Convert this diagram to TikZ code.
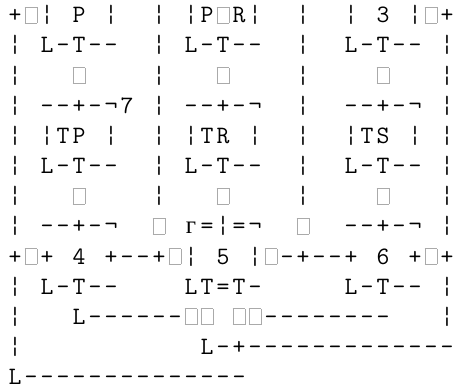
\documentclass[tikz,border=0pt]{standalone}
\usepackage{fontspec}
\newfontfamily\cyrf{Liberation Serif}
\definecolor{tofugray}{RGB}{170,170,170}
\makeatletter
\def\dotch{.}
\newcommand\tofu{{\color{tofugray}\setlength\fboxsep{0pt}\setlength\fboxrule{0.9pt}\fbox{\rule{0pt}{15pt}\hspace{11pt}}}}
\newcommand\gge{{\cyrf г}}
\newcommand\gridrow[1]{\@tfor\rowch:=#1\do{\makebox[16pt]{\ifx\rowch\dotch\else\rowch\fi}}}
\makeatother
\tikzset{
  asciirow/.style={anchor=base west, inner sep=0pt, outer sep=0pt,
    font=\ttfamily\fontsize{25}{29}\selectfont}
}
\begin{document}
\begin{tikzpicture}[x=1pt,y=1pt]
\useasboundingbox (0,0) rectangle (457,389);
\node[asciirow] (r1)  at (7,{389-22.8-0*30.15}) {\gridrow{+\tofu ¦.P.¦..¦.¦P\tofu R¦..¦..¦.3.¦\tofu +}};
\node[asciirow] (r2)  at (7,{389-22.8-1*30.15}) {\gridrow{¦.L-T--..¦.L-T--..¦..L-T--.¦}};
\node[asciirow] (r3)  at (7,{389-22.8-2*30.15}) {\gridrow{¦...\tofu ....¦...\tofu ....¦....\tofu ...¦}};
\node[asciirow] (r4)  at (7,{389-22.8-3*30.15}) {\gridrow{¦.--+-¬7.¦.--+-¬..¦..--+-¬.¦}};
\node[asciirow] (r5)  at (7,{389-22.8-4*30.15}) {\gridrow{¦.¦TP.¦..¦.¦TR.¦..¦..¦TS.¦.¦}};
\node[asciirow] (r6)  at (7,{389-22.8-5*30.15}) {\gridrow{¦.L-T--..¦.L-T--..¦..L-T--.¦}};
\node[asciirow] (r7)  at (7,{389-22.8-6*30.15}) {\gridrow{¦...\tofu ....¦...\tofu ....¦....\tofu ...¦}};
\node[asciirow] (r8)  at (7,{389-22.8-7*30.15}) {\gridrow{¦.--+-¬..\tofu .\gge =¦=¬..\tofu ..--+-¬.¦}};
\node[asciirow] (r9)  at (7,{389-22.8-8*30.15}) {\gridrow{+\tofu +.4.+--+\tofu ¦.5.¦\tofu -+--+.6.+\tofu +}};
\node[asciirow] (r10) at (7,{389-22.8-9*30.15}) {\gridrow{¦.L-T--....LT=T-.....L-T--.¦}};
\node[asciirow] (r11) at (7,{389-22.8-10*30.15}) {\gridrow{¦...L------\tofu\tofu .\tofu\tofu --------...¦}};
\node[asciirow] (r12) at (7,{389-22.8-11*30.15}) {\gridrow{¦...........L-+-------------}};
\node[asciirow] (r13) at (7,{389-22.8-12*30.15}) {\gridrow{L--------------}};
\end{tikzpicture}
\end{document}
